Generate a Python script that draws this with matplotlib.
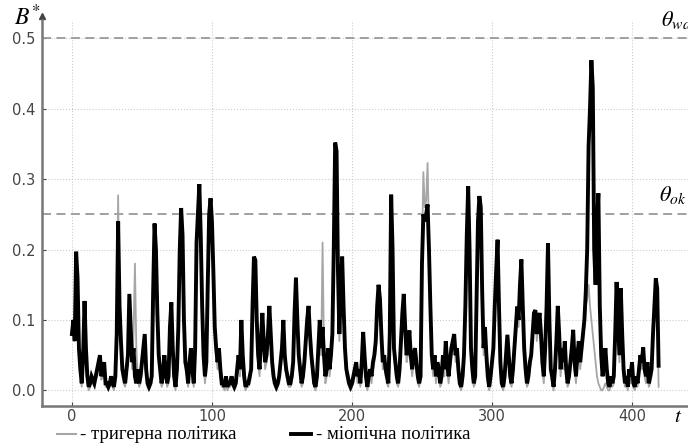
import numpy as np
import matplotlib
matplotlib.use("Agg")
import matplotlib.pyplot as plt
from matplotlib.lines import Line2D

plt.rcParams['mathtext.fontset'] = 'stix'

# myopic policy (black), one value per step t = 0..419
myopic = [
    0.08, 0.10, 0.07, 0.197, 0.16, 0.06, 0.03, 0.01, 0.05, 0.127,
    0.06, 0.02, 0.005, 0.01, 0.02, 0.015, 0.01, 0.02, 0.03, 0.04,
    0.05, 0.02, 0.03, 0.04, 0.01, 0.01, 0.005, 0.01, 0.02, 0.01,
    0.005, 0.02, 0.08, 0.24, 0.12, 0.07, 0.03, 0.02, 0.01, 0.03,
    0.05, 0.137, 0.09, 0.04, 0.06, 0.02, 0.01, 0.03, 0.01, 0.02,
    0.04, 0.06, 0.08, 0.03, 0.01, 0.005, 0.01, 0.02, 0.14, 0.237,
    0.20, 0.11, 0.05, 0.03, 0.01, 0.02, 0.05, 0.03, 0.01, 0.02,
    0.09, 0.125, 0.06, 0.02, 0.005, 0.03, 0.09, 0.20, 0.259, 0.22,
    0.10, 0.04, 0.03, 0.01, 0.04, 0.06, 0.03, 0.01, 0.06, 0.21,
    0.25, 0.293, 0.22, 0.12, 0.05, 0.02, 0.04, 0.15, 0.25, 0.273,
    0.24, 0.17, 0.09, 0.06, 0.04, 0.06, 0.03, 0.01, 0.01, 0.005,
    0.02, 0.005, 0.01, 0.01, 0.02, 0.01, 0.005, 0.01, 0.03, 0.05,
    0.03, 0.10, 0.05, 0.02, 0.005, 0.01, 0.01, 0.02, 0.03, 0.12,
    0.19, 0.185, 0.10, 0.05, 0.03, 0.07, 0.11, 0.07, 0.04, 0.05,
    0.08, 0.12, 0.08, 0.04, 0.02, 0.01, 0.005, 0.01, 0.02, 0.04,
    0.06, 0.10, 0.05, 0.03, 0.02, 0.01, 0.01, 0.02, 0.04, 0.11,
    0.16, 0.10, 0.05, 0.03, 0.01, 0.02, 0.04, 0.07, 0.10, 0.12,
    0.08, 0.05, 0.03, 0.01, 0.005, 0.02, 0.06, 0.10, 0.06, 0.09,
    0.05, 0.02, 0.03, 0.06, 0.03, 0.05, 0.08, 0.20, 0.352, 0.34,
    0.17, 0.08, 0.14, 0.19, 0.12, 0.06, 0.03, 0.02, 0.01, 0.005,
    0.01, 0.02, 0.03, 0.04, 0.02, 0.03, 0.01, 0.04, 0.083, 0.05,
    0.02, 0.005, 0.02, 0.03, 0.02, 0.04, 0.05, 0.07, 0.12, 0.15,
    0.13, 0.08, 0.04, 0.05, 0.03, 0.02, 0.01, 0.08, 0.278, 0.20,
    0.06, 0.04, 0.02, 0.01, 0.03, 0.07, 0.11, 0.137, 0.09, 0.05,
    0.06, 0.085, 0.05, 0.03, 0.05, 0.06, 0.04, 0.02, 0.01, 0.02,
    0.18, 0.25, 0.24, 0.25, 0.264, 0.20, 0.12, 0.05, 0.03, 0.05,
    0.02, 0.04, 0.03, 0.01, 0.02, 0.05, 0.03, 0.07, 0.04, 0.02,
    0.04, 0.06, 0.07, 0.08, 0.05, 0.06, 0.03, 0.01, 0.005, 0.02,
    0.05, 0.12, 0.22, 0.29, 0.20, 0.06, 0.03, 0.01, 0.02, 0.13,
    0.24, 0.276, 0.26, 0.14, 0.06, 0.09, 0.05, 0.02, 0.005, 0.02,
    0.04, 0.06, 0.12, 0.17, 0.214, 0.12, 0.04, 0.01, 0.005, 0.02,
    0.05, 0.079, 0.05, 0.02, 0.01, 0.03, 0.06, 0.09, 0.119, 0.10,
    0.15, 0.186, 0.12, 0.06, 0.03, 0.01, 0.02, 0.04, 0.05, 0.08,
    0.11, 0.114, 0.08, 0.10, 0.11, 0.08, 0.04, 0.02, 0.06, 0.12,
    0.209, 0.10, 0.03, 0.02, 0.005, 0.03, 0.07, 0.12, 0.08, 0.03,
    0.06, 0.04, 0.07, 0.03, 0.01, 0.02, 0.04, 0.06, 0.086, 0.04,
    0.02, 0.05, 0.07, 0.04, 0.06, 0.08, 0.10, 0.14, 0.20, 0.347,
    0.40, 0.469, 0.43, 0.20, 0.15, 0.24, 0.28, 0.12, 0.05, 0.02,
    0.04, 0.06, 0.03, 0.01, 0.005, 0.02, 0.01, 0.02, 0.08, 0.154,
    0.10, 0.05, 0.145, 0.08, 0.03, 0.01, 0.02, 0.005, 0.03, 0.02,
    0.04, 0.01, 0.005, 0.02, 0.01, 0.03, 0.05, 0.04, 0.061, 0.03,
    0.02, 0.04, 0.01, 0.02, 0.03, 0.08, 0.12, 0.159, 0.145, 0.035,
]

# trigger policy (grey), same steps
trigger = [
    0.08, 0.10, 0.07, 0.19, 0.15, 0.05, 0.02, 0.005, 0.05, 0.12,
    0.05, 0.01, 0.0, 0.005, 0.01, 0.01, 0.005, 0.015, 0.02, 0.03,
    0.04, 0.015, 0.02, 0.03, 0.005, 0.005, 0.0, 0.005, 0.01, 0.005,
    0.0, 0.02, 0.10, 0.277, 0.10, 0.06, 0.02, 0.01, 0.005, 0.02,
    0.04, 0.12, 0.08, 0.03, 0.08, 0.18, 0.06, 0.02, 0.005, 0.01,
    0.03, 0.05, 0.07, 0.02, 0.005, 0.0, 0.005, 0.01, 0.10, 0.20,
    0.22, 0.12, 0.04, 0.02, 0.005, 0.01, 0.04, 0.02, 0.005, 0.01,
    0.08, 0.12, 0.05, 0.01, 0.0, 0.02, 0.08, 0.19, 0.25, 0.21,
    0.09, 0.03, 0.02, 0.005, 0.03, 0.05, 0.02, 0.005, 0.05, 0.20,
    0.24, 0.285, 0.21, 0.11, 0.04, 0.01, 0.03, 0.14, 0.24, 0.265,
    0.23, 0.16, 0.08, 0.05, 0.03, 0.05, 0.02, 0.005, 0.005, 0.0,
    0.01, 0.0, 0.005, 0.005, 0.01, 0.005, 0.0, 0.005, 0.02, 0.04,
    0.02, 0.09, 0.04, 0.01, 0.0, 0.005, 0.005, 0.01, 0.02, 0.11,
    0.18, 0.18, 0.09, 0.04, 0.02, 0.06, 0.10, 0.06, 0.03, 0.04,
    0.07, 0.11, 0.07, 0.03, 0.01, 0.005, 0.0, 0.005, 0.01, 0.03,
    0.05, 0.09, 0.04, 0.02, 0.01, 0.005, 0.005, 0.01, 0.03, 0.10,
    0.15, 0.09, 0.04, 0.02, 0.005, 0.01, 0.03, 0.06, 0.09, 0.11,
    0.07, 0.04, 0.02, 0.005, 0.0, 0.01, 0.05, 0.09, 0.05, 0.21,
    0.06, 0.01, 0.02, 0.05, 0.02, 0.04, 0.07, 0.19, 0.34, 0.33,
    0.16, 0.07, 0.13, 0.18, 0.11, 0.05, 0.02, 0.01, 0.005, 0.0,
    0.005, 0.01, 0.02, 0.03, 0.01, 0.02, 0.005, 0.03, 0.075, 0.04,
    0.01, 0.0, 0.01, 0.02, 0.01, 0.03, 0.04, 0.06, 0.11, 0.14,
    0.12, 0.07, 0.03, 0.04, 0.02, 0.01, 0.005, 0.07, 0.27, 0.19,
    0.05, 0.03, 0.01, 0.005, 0.02, 0.06, 0.10, 0.13, 0.08, 0.04,
    0.05, 0.08, 0.04, 0.02, 0.04, 0.05, 0.03, 0.01, 0.005, 0.02,
    0.20, 0.31, 0.26, 0.27, 0.323, 0.22, 0.10, 0.04, 0.02, 0.04,
    0.01, 0.03, 0.02, 0.005, 0.01, 0.04, 0.02, 0.06, 0.03, 0.01,
    0.03, 0.05, 0.06, 0.07, 0.04, 0.05, 0.02, 0.005, 0.0, 0.01,
    0.04, 0.11, 0.21, 0.28, 0.19, 0.05, 0.02, 0.005, 0.01, 0.12,
    0.23, 0.27, 0.25, 0.13, 0.05, 0.08, 0.04, 0.01, 0.0, 0.01,
    0.03, 0.05, 0.11, 0.16, 0.205, 0.11, 0.03, 0.005, 0.0, 0.01,
    0.04, 0.07, 0.04, 0.01, 0.005, 0.02, 0.05, 0.08, 0.11, 0.09,
    0.14, 0.18, 0.11, 0.05, 0.02, 0.005, 0.01, 0.03, 0.04, 0.07,
    0.10, 0.11, 0.07, 0.09, 0.10, 0.07, 0.03, 0.01, 0.05, 0.11,
    0.20, 0.09, 0.02, 0.01, 0.0, 0.02, 0.06, 0.11, 0.07, 0.02,
    0.05, 0.03, 0.06, 0.02, 0.005, 0.01, 0.03, 0.05, 0.08, 0.03,
    0.01, 0.04, 0.06, 0.03, 0.05, 0.07, 0.09, 0.12, 0.13, 0.15,
    0.12, 0.10, 0.08, 0.06, 0.04, 0.02, 0.01, 0.005, 0.0, 0.0,
    0.005, 0.01, 0.005, 0.0, 0.0, 0.01, 0.005, 0.01, 0.07, 0.145,
    0.09, 0.04, 0.135, 0.07, 0.02, 0.005, 0.01, 0.0, 0.02, 0.01,
    0.03, 0.005, 0.0, 0.01, 0.005, 0.02, 0.04, 0.03, 0.055, 0.02,
    0.01, 0.03, 0.005, 0.01, 0.02, 0.07, 0.11, 0.15, 0.14, 0.005,
]

thresholds = {'warn': 0.5, 'ok': 0.25}
x_ticks = [0, 100, 200, 300, 400]
y_ticks = [0.0, 0.1, 0.2, 0.3, 0.4, 0.5]
legend_labels = ['- тригерна політика', '- міопічна політика']

t = np.arange(len(myopic))

fig = plt.figure(figsize=(6.88, 4.46), dpi=100)
ax = fig.add_axes([0.061, 0.09, 0.939, 0.865])

ax.plot(t, trigger, color='#a6a6a6', lw=1.3, zorder=3)
ax.plot(t, myopic, color='black', lw=2.8, zorder=4, solid_joinstyle='miter')

for v in thresholds.values():
    ax.axhline(v, color='#999999', lw=1.3, ls=(0, (5, 3)), zorder=2)

ax.set_xlim(-21.4, 440)
ax.set_ylim(-0.022, 0.526)
ax.set_xticks(x_ticks)
ax.set_yticks(y_ticks)
ax.set_yticklabels([f'{v:.1f}' for v in y_ticks])
ax.grid(True, color='#cccccc', lw=0.8, ls=':')
ax.tick_params(direction='in', length=3, colors='#444444', labelsize=10.5)
ax.tick_params(axis='x', pad=2)
ax.tick_params(axis='y', pad=5)

for s in ['top', 'right']:
    ax.spines[s].set_visible(False)
for s in ['left', 'bottom']:
    ax.spines[s].set_color('#777777')
    ax.spines[s].set_linewidth(1.8)
ax.plot([0], [1.01], marker='^', color='#444444', ms=5, transform=ax.transAxes, clip_on=False)

fig.text(0.02, 0.99, r'$B^{*}$', fontsize=17, ha='left', va='top')
ax.text(421, 0.511, r'$\theta_{warn}$', fontsize=16, ha='left', va='bottom', clip_on=False)
ax.text(419, 0.262, r'$\theta_{ok}$', fontsize=16, ha='left', va='bottom')
fig.text(0.985, 0.068, r'$t$', fontsize=15, ha='center', va='center')

# legend below the axis
fig.add_artist(Line2D([0.083, 0.110], [0.026, 0.026], color='#a6a6a6', lw=1.5))
fig.text(0.117, 0.026, legend_labels[0], family='Liberation Serif', fontsize=13.5, va='center')
fig.add_artist(Line2D([0.423, 0.452], [0.026, 0.026], color='black', lw=2.8))
fig.text(0.460, 0.026, legend_labels[1], family='Liberation Serif', fontsize=13.5, va='center')

fig.savefig('out.png', dpi=100)
